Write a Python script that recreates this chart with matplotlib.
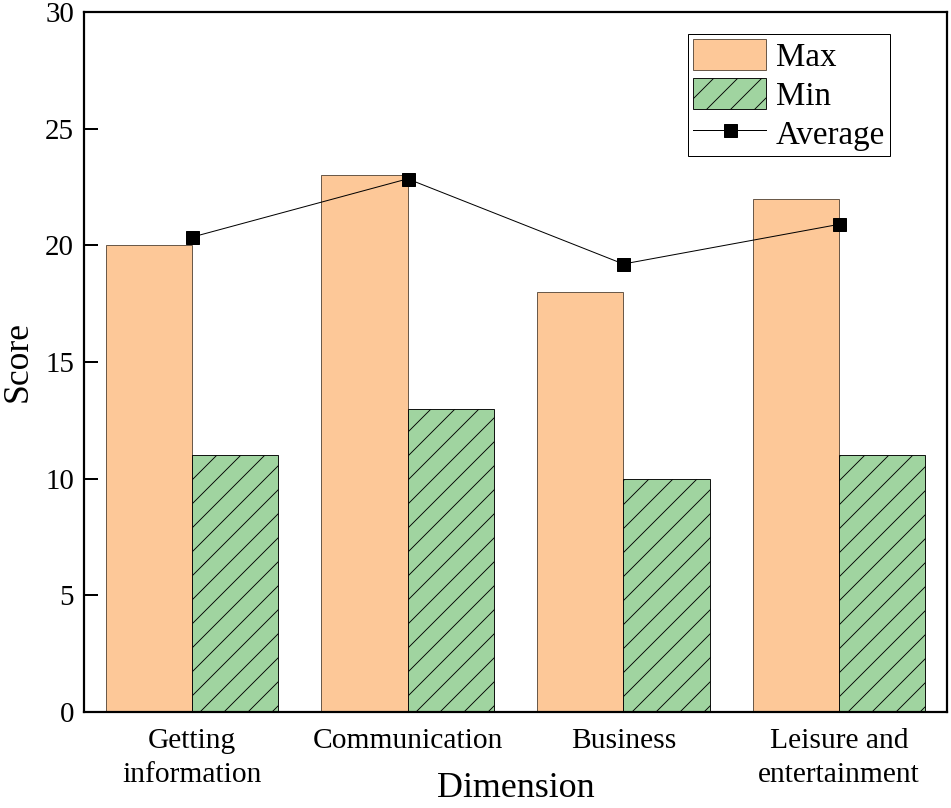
import matplotlib.pyplot as plt
import numpy as np

plt.rcParams['font.family'] = ['Liberation Serif', 'DejaVu Serif']
plt.rcParams['hatch.linewidth'] = 0.9

categories = ['Getting\ninformation', 'Communication', 'Business', 'Leisure and\nentertainment']
max_scores = [20, 23, 18, 22]
min_scores = [11, 13, 10, 11]
avg_scores = [20.35, 22.85, 19.2, 20.9]

x = np.arange(len(categories))
w = 0.4

fig = plt.figure(figsize=(951 / 72, 808 / 72), dpi=72)
ax = fig.add_axes([84 / 951, 96 / 808, 863 / 951, 700 / 808])

ax.bar(x - w / 2, max_scores, w, color='#FDC898', edgecolor='#6b5a4a', linewidth=1, label='Max')
ax.bar(x + w / 2, min_scores, w, color='#A0D4A0', edgecolor='black', linewidth=0.9,
       hatch='/', label='Min')
ax.plot(x, avg_scores, color='black', linewidth=1, marker='s', markersize=13, label='Average')

ax.set_xlim(-0.5, 3.5)
ax.set_ylim(0, 30)
ax.set_yticks(range(0, 31, 5))
ax.set_xticks(x)
ax.set_xticklabels(categories, fontsize=29.5, linespacing=1.38)
ax.tick_params(axis='y', direction='in', length=14, width=2, labelsize=29, pad=10)
ax.tick_params(axis='x', length=0, pad=16)
for s in ax.spines.values():
    s.set_linewidth(2.2)

ax.set_xlabel('Dimension', fontsize=36)
ax.set_ylabel('Score', fontsize=35.5)
ax.xaxis.set_label_coords(0.5, -0.086)
ax.yaxis.set_label_coords(-0.057, 0.5)

handles, labels = ax.get_legend_handles_labels()
order = [labels.index('Max'), labels.index('Min'), labels.index('Average')]
leg = ax.legend([handles[i] for i in order], [labels[i] for i in order],
                loc='upper right', bbox_to_anchor=(0.934, 0.9686), borderaxespad=0,
                fontsize=33, handlelength=2.2, handleheight=1.09, labelspacing=0.15,
                borderpad=0.15, handletextpad=0.3, fancybox=False, framealpha=1)
leg.get_frame().set_edgecolor('black')
leg.get_frame().set_linewidth(1)

fig.savefig('out.png', dpi=72)
